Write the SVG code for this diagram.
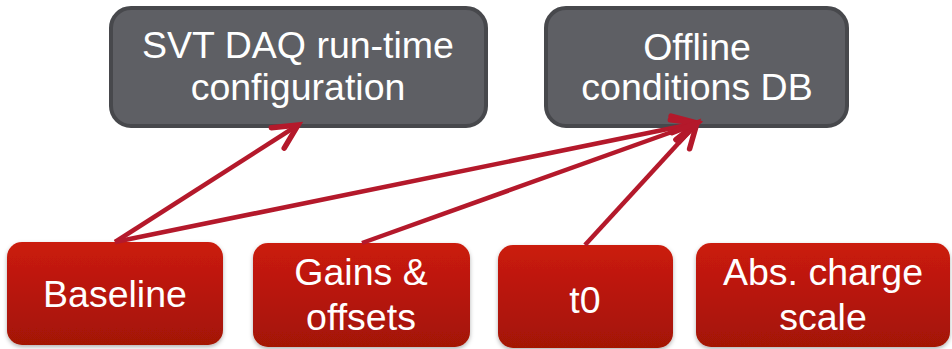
<svg xmlns="http://www.w3.org/2000/svg" width="952" height="349" viewBox="0 0 952 349">
<defs>
<linearGradient id="red" x1="0" y1="0" x2="0" y2="1">
<stop offset="0" stop-color="#cb1b0c"/>
<stop offset="1" stop-color="#a31306"/>
</linearGradient>
<filter id="sh" x="-10%" y="-10%" width="120%" height="125%">
<feDropShadow dx="0" dy="2" stdDeviation="2" flood-color="#000" flood-opacity="0.3"/>
</filter>
<marker id="arr" markerUnits="userSpaceOnUse" markerWidth="40" markerHeight="40" viewBox="-30 -20 40 40" refX="0" refY="0" orient="auto">
<path d="M-24,-12 L0,0 L-24,12" fill="none" stroke="#b4192b" stroke-width="5.5" stroke-linecap="round" stroke-linejoin="miter"/>
</marker>
<style>
.dark{fill:#5e5f64;stroke:#47484c;stroke-width:4}
.redb{fill:url(#red);filter:url(#sh)}
text{font-family:"Liberation Sans",Arial,sans-serif;font-size:37.5px;fill:#ffffff;text-anchor:middle}
.c{fill:none;stroke:#b4192b;stroke-width:4.5;marker-end:url(#arr)}
</style>
</defs>
<g id="svt">
<rect class="dark" x="111" y="8" width="375" height="118" rx="20"/>
<text x="298" y="58">SVT DAQ run-time</text>
<text x="298" y="100">configuration</text>
</g>
<g id="offline">
<rect class="dark" x="546" y="8" width="301" height="118" rx="20"/>
<text x="697" y="60">Offline</text>
<text x="697" y="100">conditions DB</text>
</g>
<g id="baseline">
<rect class="redb" x="7" y="242" width="216" height="103" rx="15"/>
<text x="115" y="307">Baseline</text>
</g>
<g id="gains">
<rect class="redb" x="253" y="243" width="217" height="104" rx="15"/>
<text x="361" y="285">Gains &amp;</text>
<text x="361" y="330">offsets</text>
</g>
<g id="t0">
<rect class="redb" x="498" y="245" width="175" height="103" rx="15"/>
<text x="585" y="313">t0</text>
</g>
<g id="abs">
<rect class="redb" x="696" y="243" width="254" height="104" rx="15"/>
<text x="823" y="285">Abs. charge</text>
<text x="823" y="330">scale</text>
</g>
<g id="connectors">
<line class="c" x1="115" y1="242" x2="298" y2="125"/>
<line class="c" x1="115" y1="242" x2="697" y2="123"/>
<line class="c" x1="362" y1="243" x2="697" y2="123"/>
<line class="c" x1="585" y1="245" x2="697" y2="123"/>
</g>
</svg>
